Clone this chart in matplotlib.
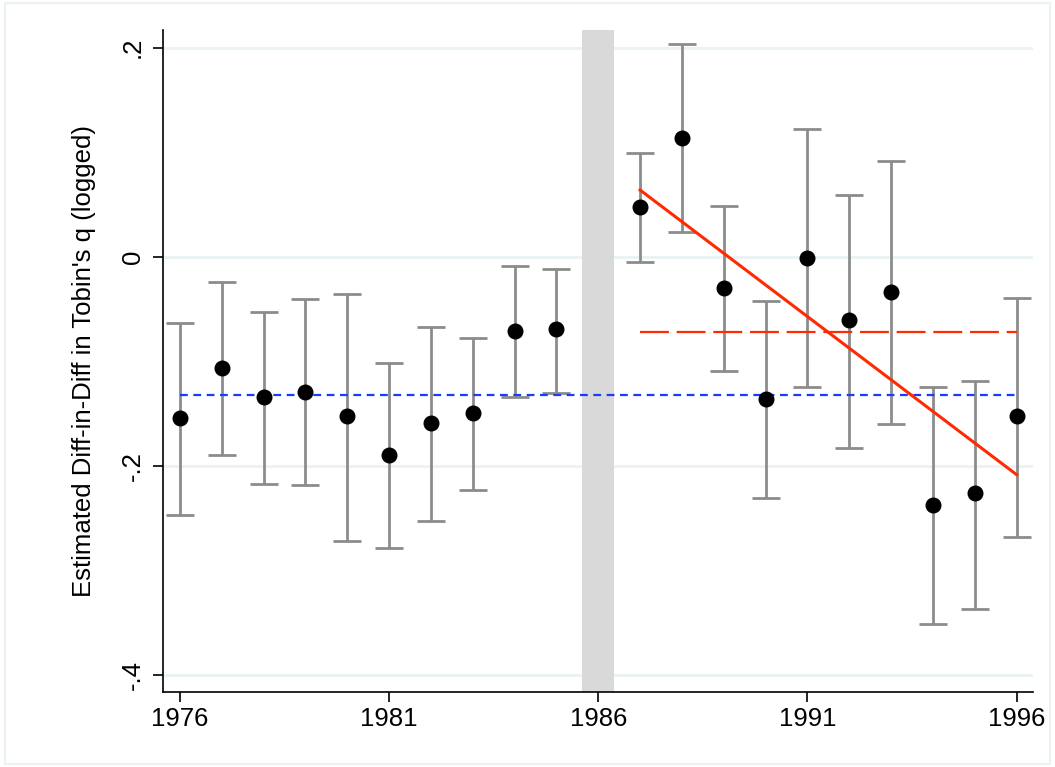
import matplotlib
matplotlib.use("Agg")
import matplotlib.pyplot as plt
from matplotlib.patches import Rectangle

plt.rcParams['font.family'] = ['Liberation Sans', 'DejaVu Sans']

# Point estimates and 95% CI by year (1986 omitted)
years = [1976, 1977, 1978, 1979, 1980, 1981, 1982, 1983, 1984, 1985,
         1987, 1988, 1989, 1990, 1991, 1992, 1993, 1994, 1995, 1996]
est = [-0.154, -0.106, -0.134, -0.129, -0.152, -0.189, -0.159, -0.149, -0.071, -0.069,
       0.048, 0.114, -0.030, -0.136, -0.001, -0.060, -0.033, -0.237, -0.226, -0.152]
ci_hi = [-0.063, -0.024, -0.053, -0.040, -0.035, -0.101, -0.067, -0.077, -0.009, -0.011,
         0.099, 0.204, 0.049, -0.042, 0.122, 0.059, 0.092, -0.124, -0.119, -0.039]
ci_lo = [-0.247, -0.189, -0.217, -0.218, -0.271, -0.278, -0.252, -0.223, -0.134, -0.130,
         -0.005, 0.024, -0.109, -0.230, -0.124, -0.183, -0.160, -0.351, -0.336, -0.268]

pre_mean = -0.132          # blue dotted, 1976-1996
post_mean = -0.072         # red dashed, 1987-1996
trend_x = [1987, 1996]
trend_y = [0.064, -0.208]  # red linear fit
event_year = 1986

xticks = [1976, 1981, 1986, 1991, 1996]
yticks = [0.2, 0, -0.2, -0.4]
ytick_labels = ['.2', '0', '-.2', '-.4']

fig = plt.figure(figsize=(10.55, 7.67), dpi=100)
fig.patches.append(Rectangle((0.005, 0.004), 0.99, 0.992, transform=fig.transFigure,
                             fill=False, edgecolor='#eaf2f3', lw=1.5))
ax = fig.add_axes([0.1545, 0.0978, 0.8245, 0.8631])

for y in yticks:
    ax.axhline(y, color='#eaf2f3', lw=2, zorder=0)

ax.axvspan(event_year - 0.38, event_year + 0.38, color='#d9d9d9', lw=0, zorder=1)

lo_err = [e - l for e, l in zip(est, ci_lo)]
hi_err = [h - e for e, h in zip(est, ci_hi)]
ax.errorbar(years, est, yerr=[lo_err, hi_err], fmt='none', ecolor='#8c8c8c',
            elinewidth=2, capsize=10, capthick=2, zorder=2)

ax.plot([years[0], years[-1]], [pre_mean, pre_mean], color='#1a3cff', lw=1.6,
        dashes=(3.5, 2.5), zorder=3)
ax.plot([trend_x[0], years[-1]], [post_mean, post_mean], color='#ff2a00', lw=1.6,
        dashes=(13, 3.5), zorder=3)
ax.plot(trend_x, trend_y, color='#ff2a00', lw=2.2, zorder=3)

ax.plot(years, est, 'o', color='black', ms=10.5, zorder=4)

ax.set_xlim(1975.594, 1996.39)
ax.set_ylim(-0.4158, 0.217)
ax.set_xticks(xticks)
ax.set_yticks(yticks)
ax.set_yticklabels(ytick_labels, rotation=90, va='center')
ax.tick_params(axis='both', length=7, width=1.2, labelsize=18.5, pad=4)
ax.tick_params(axis='y', pad=6)
for s in ['top', 'right']:
    ax.spines[s].set_visible(False)
for s in ['left', 'bottom']:
    ax.spines[s].set_linewidth(1.2)
ax.set_ylabel("Estimated Diff-in-Diff in Tobin's q (logged)", fontsize=18.5, labelpad=18)

fig.savefig('out.png', dpi=100)
